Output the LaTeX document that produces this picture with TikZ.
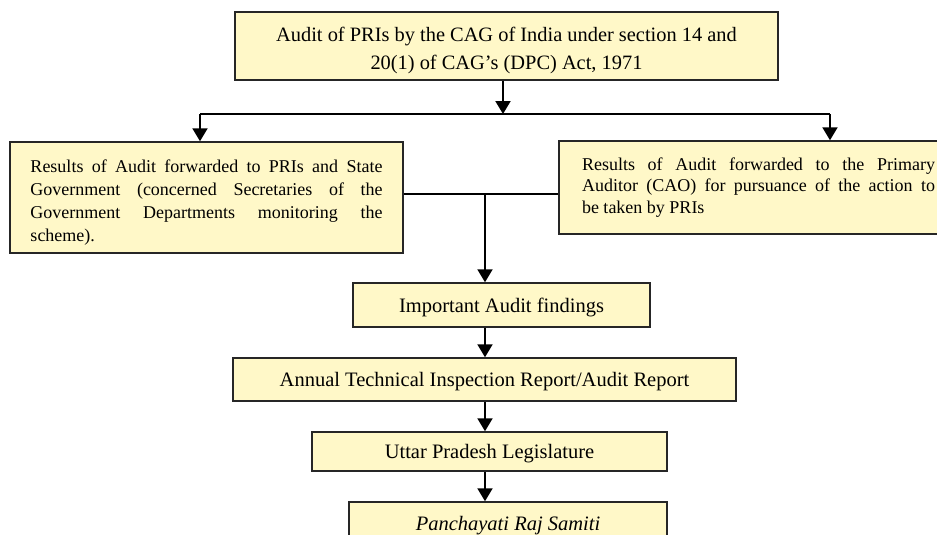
\documentclass[tikz,border=0pt]{standalone}
\usepackage{fontspec}
\setmainfont{Liberation Serif}
\usetikzlibrary{arrows.meta}
\definecolor{boxfill}{HTML}{FFF8C8}
\begin{document}
\begin{tikzpicture}[x=1pt,y=-1pt,
  box/.style={draw=black!85, line width=1.5pt, fill=boxfill, inner sep=0pt,
    font=\fontsize{18}{21.5}\selectfont},
  onebox/.style={box, font=\fontsize{20.5}{24}\selectfont, text height=14pt, text depth=0pt},
  arr/.style={line width=2pt, -{Triangle[width=15pt,length=13pt]}},
  ln/.style={line width=1.6pt}]
\useasboundingbox (0,0) rectangle (937,535);

\node[box, minimum width=543pt, minimum height=68pt, align=center,
  font=\fontsize{20.4}{28}\selectfont] (top) at (506.5,46)
  {\rule{0pt}{24pt}Audit of PRIs by the CAG of India under section 14 and\\20(1) of CAG’s (DPC) Act, 1971};

\node[box, minimum width=393pt, minimum height=111pt, text width=352pt, align=justify,
  font=\fontsize{18}{23}\selectfont]
  (left) at (206.5,197.5)
  {\rule{0pt}{22.5pt}Results of Audit forwarded to PRIs and State\linebreak Government (concerned Secretaries of the\linebreak Government Departments monitoring the\linebreak scheme).};

\node[box, minimum width=399pt, minimum height=93pt, text width=353pt, align=justify]
  (right) at (758.5,187.5)
  {Results of Audit forwarded to the Primary\linebreak Auditor (CAO) for pursuance of the action to\linebreak be taken by PRIs};

\node[onebox, minimum width=297pt, minimum height=44pt] (imp) at (501.5,305) {Important Audit findings};
\node[onebox, minimum width=503pt, minimum height=43pt] (ann) at (484.5,379.5) {Annual Technical Inspection Report/Audit Report};
\node[onebox, minimum width=355pt, minimum height=39pt] (upl) at (489.5,451.5) {Uttar Pradesh Legislature};
\node[onebox, minimum width=318pt, minimum height=42pt, font=\fontsize{20.5}{24}\selectfont\itshape] (prs) at (508,523) {Panchayati Raj Samiti};

\coordinate (j1) at (503,114);
\coordinate (bl) at (200,114);
\coordinate (br) at (830,114);
\coordinate (m) at (485,194);

\draw[arr] (j1 |- top.south) -- (j1);
\draw[ln] (bl) -- (br);
\draw[arr] (bl) -- (bl |- left.north);
\draw[arr] (br) -- (br |- right.north);
\draw[ln] (left.east |- m) -- (right.west |- m);
\draw[arr] (m) -- (m |- imp.north);
\draw[arr] (m |- imp.south) -- (m |- ann.north);
\draw[arr] (m |- ann.south) -- (m |- upl.north);
\draw[arr] (m |- upl.south) -- (m |- prs.north);
\end{tikzpicture}
\end{document}
